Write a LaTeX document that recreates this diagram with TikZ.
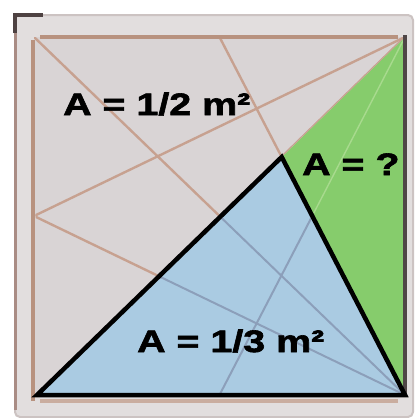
\documentclass[tikz,border=0pt]{standalone}
\usepackage{fontspec}
\newfontfamily\areafont[FakeStretch=1.27, BoldFeatures={FakeBold=2}]{Liberation Sans}
\definecolor{paper}{HTML}{FFFFFF}
\definecolor{framefill}{HTML}{E2DEDE}
\definecolor{frameline}{HTML}{CCC3C2}
\definecolor{framebrown}{HTML}{A98C84}
\definecolor{framedark}{HTML}{4E4242}
\definecolor{sqgray}{HTML}{D9D4D5}
\definecolor{edgebrown}{HTML}{B8927F}
\definecolor{guidebrown}{HTML}{C7A190}
\definecolor{guideblue}{HTML}{8C9FBA}
\definecolor{guidegreen}{HTML}{A8DA8E}
\definecolor{areablue}{HTML}{AACBE2}
\definecolor{areagreen}{HTML}{86CC6C}
\definecolor{rightedge}{HTML}{4F4646}

\begin{document}
\begin{tikzpicture}[
  x=1pt, y=-1pt,
  % thin construction lines, tinted by the region they cross
  guide/.style={line width=2.4pt, draw=guidebrown},
  guideb/.style={guide, line width=2pt, draw=guideblue},
  guideg/.style={guide, line width=1.4pt, draw=guidegreen},
  rim/.style={line width=3.2pt, draw=edgebrown},
  tri/.style={line width=4.5pt, draw=black},
  area/.style={inner sep=0pt, anchor=base west, font=\areafont\bfseries\fontsize{31}{31}\selectfont}
]
\useasboundingbox (0,0) rectangle (416,418);
\fill[paper] (0,0) rectangle (416,418);

% tile frame
\draw[frameline, fill=framefill, line width=2pt, rounded corners=5pt] (15,15) rectangle (413,417);
\draw[framebrown, line width=3pt] (15,24) -- (15,410);
\draw[framedark, line width=3.5pt] (15,33) -- (15,15) -- (43,15);

% square corners and midpoints
\coordinate (TL) at (34,37);
\coordinate (TR) at (405,37);
\coordinate (BL) at (37,395);
\coordinate (BR) at (405,395);
\coordinate (T) at (219.5,37);
\coordinate (L) at (34,216);
\coordinate (B) at (219.5,395);
\coordinate (P) at (intersection of T--BR and BL--TR);

\fill[sqgray] (TL) rectangle (BR);
\fill[areablue] (BL) -- (P) -- (BR) -- cycle;
\fill[areagreen] (P) -- (TR) -- (BR) -- cycle;

\begin{scope}
  \clip (TL) -- (TR) -- (BL) -- cycle;
  \foreach \a/\b in {TL/BR, L/TR, L/BR, T/BR, BL/TR}
    \draw[guide] (\a) -- (\b);
\end{scope}
\begin{scope}
  \clip (BL) -- (P) -- (BR) -- cycle;
  \foreach \a/\b in {TL/BR, L/BR, TR/B}
    \draw[guideb] (\a) -- (\b);
\end{scope}
\begin{scope}
  \clip (P) -- (TR) -- (BR) -- cycle;
  \draw[guideg] (TR) -- (B);
\end{scope}

% square rims
\draw[rim] (33,40) -- (33,401);
\draw[rim] (40,37) -- (398,37);
\draw[rim, draw=edgebrown!75] (40,401) -- (398,401);
\draw[rightedge, line width=3.2pt] ([yshift=2pt]TR) -- (BR);

\draw[tri] (BL) -- (P) -- (BR) -- cycle;

\node[area] (half) at (63,115) {A = 1/2 m²};
\node[area] (unknown) at (302,175) {A = ?};
\node[area] (third) at (137,352) {A = 1/3 m²};
\end{tikzpicture}
\end{document}
